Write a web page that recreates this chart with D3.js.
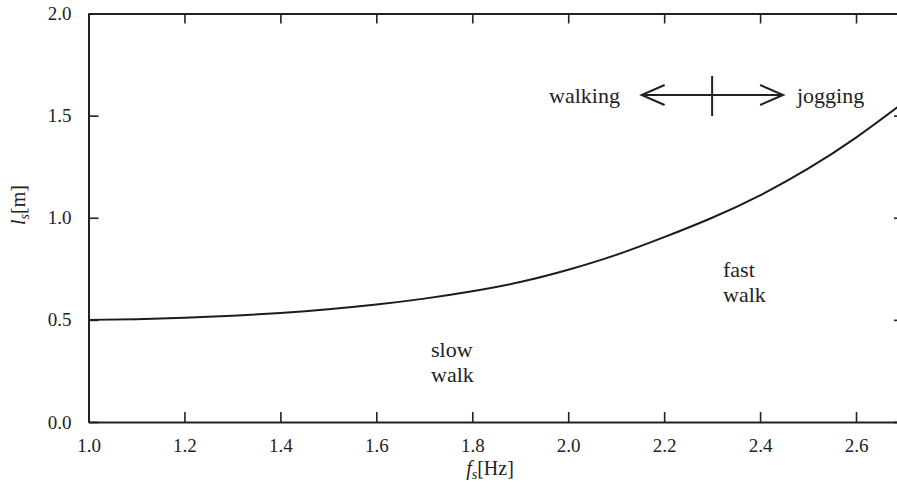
<!DOCTYPE html>
<html>
<head>
<meta charset="utf-8">
<script src="https://cdn.jsdelivr.net/npm/d3@7"></script>
<style>
  html, body { margin: 0; padding: 0; background: #fff; }
  svg { display: block; }
</style>
</head>
<body>
<svg id="chart" width="897" height="492"></svg>
<script>
// Step frequency f_s [Hz] and step length l_s [m]
const freq = [1.0, 1.1, 1.2, 1.3, 1.4, 1.5, 1.6, 1.7, 1.8, 1.9, 2.0, 2.1, 2.2, 2.3, 2.4, 2.5, 2.6, 2.7];
const stepLength = [0.500, 0.503, 0.510, 0.520, 0.534, 0.552, 0.575, 0.604, 0.640, 0.685, 0.745, 0.818, 0.905, 1.000, 1.110, 1.240, 1.392, 1.565];
const xTicks = [1.0, 1.2, 1.4, 1.6, 1.8, 2.0, 2.2, 2.4, 2.6];
const yTicks = [0.0, 0.5, 1.0, 1.5, 2.0];
const transitionFreq = 2.3;   // walking / jogging boundary

const SERIF = "'Liberation Serif', 'Times New Roman', Times, serif";
const svg = d3.select("#chart");
const plotLeft = 88.5, plotTop = 13.5, plotBottom = 422, plotRight = 904;

const x = d3.scaleLinear().domain([1.0, 2.7]).range([plotLeft, plotRight]);
const y = d3.scaleLinear().domain([0, 2.0]).range([plotBottom, plotTop]);

const ink = "#222";
const fmt = d3.format(".1f");

// Frame axes with inward ticks
const axB = svg.append("g").attr("transform", `translate(0,${plotBottom})`)
  .call(d3.axisBottom(x).tickValues(xTicks).tickFormat(fmt).tickSizeInner(-10).tickSizeOuter(0).tickPadding(17));
const axT = svg.append("g").attr("transform", `translate(0,${plotTop})`)
  .call(d3.axisTop(x).tickValues(xTicks).tickFormat("").tickSizeInner(-10).tickSizeOuter(0));
const axL = svg.append("g").attr("transform", `translate(${plotLeft},0)`)
  .call(d3.axisLeft(y).tickValues(yTicks).tickFormat(fmt).tickSizeInner(-10).tickSizeOuter(0).tickPadding(17));
const axR = svg.append("g").attr("transform", `translate(${plotRight},0)`)
  .call(d3.axisRight(y).tickValues(yTicks).tickFormat("").tickSizeInner(-10).tickSizeOuter(0));

[axB, axT, axL, axR].forEach(g => {
  g.attr("font-family", SERIF).attr("font-size", 19);
  g.select(".domain").attr("stroke", ink).attr("stroke-width", 2);
  g.selectAll(".tick line").attr("stroke", ink).attr("stroke-width", 1.6);
  g.selectAll(".tick text").attr("font-family", SERIF).attr("font-size", 19).attr("fill", ink);
});
axB.selectAll(".tick text").attr("dy", "0.71em");

// Curve l_s(f_s)
const line = d3.line().x((d, i) => x(freq[i])).y(d => y(d)).curve(d3.curveNatural);
svg.append("path").datum(stepLength)
  .attr("d", line)
  .attr("fill", "none")
  .attr("stroke", "#1c1c1c")
  .attr("stroke-width", 2);

const addText = (sel) => sel.append("text").attr("font-family", SERIF).attr("fill", ink);

// Axis titles
const xt = addText(svg).attr("x", 490).attr("y", 475).attr("text-anchor", "middle").attr("font-size", 20);
xt.append("tspan").attr("font-style", "italic").text("f");
xt.append("tspan").attr("font-style", "italic").attr("font-size", 14).attr("dy", 4).text("s");
xt.append("tspan").attr("dy", -4).text("[Hz]");

const yt = addText(svg).attr("transform", "translate(25,205) rotate(-90)")
  .attr("text-anchor", "middle").attr("font-size", 20);
yt.append("tspan").attr("font-style", "italic").text("l");
yt.append("tspan").attr("font-style", "italic").attr("font-size", 14).attr("dy", 4).text("s");
yt.append("tspan").attr("dy", -4).text("[m]");

// Walking / jogging transition marker
const ay = 95;
const g = svg.append("g").attr("stroke", ink).attr("fill", "none").attr("stroke-width", 2);
const xa0 = x(transitionFreq) - 70.5, xa1 = x(transitionFreq) + 71;
g.append("line").attr("x1", xa0).attr("x2", xa1).attr("y1", ay).attr("y2", ay);
g.append("path").attr("d", `M${xa0 + 23},${ay - 10} L${xa0},${ay} L${xa0 + 23},${ay + 10}`);
g.append("path").attr("d", `M${xa1 - 23},${ay - 10} L${xa1},${ay} L${xa1 - 23},${ay + 10}`);
g.append("line").attr("x1", x(transitionFreq)).attr("x2", x(transitionFreq)).attr("y1", 76).attr("y2", 116);

addText(svg).attr("x", 620).attr("y", 103).attr("text-anchor", "end").attr("font-size", 22).text("walking");
addText(svg).attr("x", 797).attr("y", 103).attr("font-size", 22).text("jogging");

// Region labels
const region = (tx, ty, lines) => {
  const t = addText(svg).attr("x", tx).attr("y", ty).attr("font-size", 22);
  lines.forEach((s, i) => t.append("tspan").attr("x", tx).attr("dy", i ? 25 : 0).text(s));
};
region(431, 357, ["slow", "walk"]);
region(723, 277, ["fast", "walk"]);
</script>
</body>
</html>
